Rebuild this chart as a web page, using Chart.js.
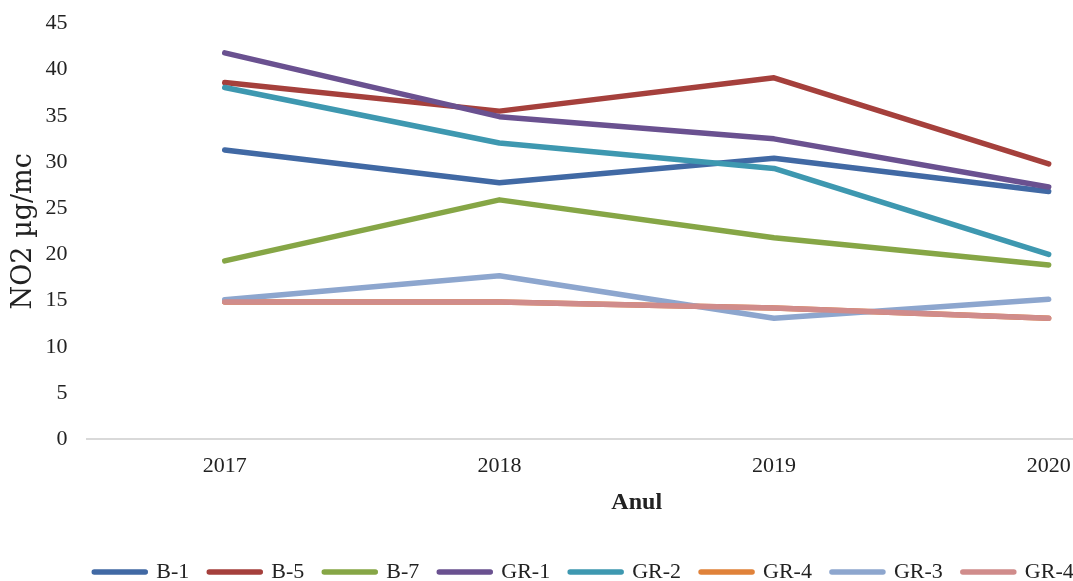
<!DOCTYPE html>
<html>
<head>
<meta charset="utf-8">
<title>NO2</title>
<script src="https://cdn.jsdelivr.net/npm/chart.js@4/dist/chart.umd.min.js"></script>
<style>
    html, body { margin: 0; padding: 0; background: #fff; overflow: hidden; }
    #wrap { position: absolute; left: 0; top: 0; width: 1188px; height: 593px; }
</style>
</head>
<body>
<div id="wrap"><canvas id="no2Chart"></canvas></div>
<script>
// Annual mean NO2 per station
const years = ['2017', '2018', '2019', '2020'];

const b1   = [31.3, 27.75, 30.4, 26.8];
const b5   = [38.6, 35.5, 39.1, 29.8];
const b7   = [19.3, 25.9, 21.8, 18.85];
const gr1  = [41.8, 34.9, 32.5, 27.3];
const gr2  = [38.05, 32.05, 29.3, 20.0];
const gr4a = [14.85, 14.85, 14.2, 13.1];
const gr3  = [15.1, 17.7, 13.1, 15.15];
const gr4b = [14.85, 14.85, 14.2, 13.1];

const seriesNames = ['B-1', 'B-5', 'B-7', 'GR-1', 'GR-2', 'GR-4', 'GR-3', 'GR-4'];
const seriesData = [b1, b5, b7, gr1, gr2, gr4a, gr3, gr4b];
const seriesColors = ['#4169A4', '#A5403C', '#86A646', '#6A5190', '#3E98B0', '#E0823A', '#8DA6CE', '#D08C8B'];

const yTicks = { min: 0, max: 45, step: 5 };

const serif = "'Liberation Serif', 'Times New Roman', serif";
const textColor = '#222';

document.addEventListener('DOMContentLoaded', function() {
    const ctx = document.getElementById('no2Chart').getContext('2d');

    // later series sit on top of earlier ones
    const datasets = seriesNames.map((name, i) => ({
        label: name,
        data: seriesData[i],
        borderColor: seriesColors[i],
        backgroundColor: seriesColors[i],
        borderWidth: 5.5,
        borderCapStyle: 'round',
        borderJoinStyle: 'round',
        pointRadius: 0,
        pointHoverRadius: 0,
        pointBorderWidth: 5,
        tension: 0,
        fill: false,
        order: seriesNames.length - i
    }));

    const defaultLabels = Chart.defaults.plugins.legend.labels.generateLabels;

    new Chart(ctx, {
        type: 'line',
        data: {
            labels: years,
            datasets: datasets
        },
        options: {
            responsive: true,
            maintainAspectRatio: false,
            animation: false,
            layout: {
                padding: { top: 1, left: -18, right: 2, bottom: 0 }
            },
            plugins: {
                legend: {
                    position: 'bottom',
                    labels: {
                        usePointStyle: true,
                        pointStyle: 'line',
                        pointStyleWidth: 51,
                        boxHeight: 5,
                        padding: 20,
                        color: textColor,
                        font: { family: serif, size: 22 },
                        sort: (a, b) => a.datasetIndex - b.datasetIndex,
                        // thick rounded swatches like the plotted lines
                        generateLabels: (chart) => defaultLabels(chart).map(item => ({
                            ...item,
                            lineWidth: 5.5,
                            lineCap: 'round'
                        }))
                    }
                },
                tooltip: { enabled: false }
            },
            scales: {
                x: {
                    offset: true,
                    grid: { display: false, drawTicks: false },
                    border: { display: true, color: '#d9d9d9', width: 2 },
                    ticks: {
                        padding: 14,
                        color: textColor,
                        font: { family: serif, size: 22 }
                    },
                    title: {
                        display: true,
                        text: 'Anul',
                        color: textColor,
                        padding: { top: -5, bottom: 23.5 },
                        font: { family: serif, size: 24, weight: 'bold' }
                    }
                },
                y: {
                    min: yTicks.min,
                    max: yTicks.max,
                    grid: { display: false, drawTicks: false },
                    border: { display: false },
                    ticks: {
                        stepSize: yTicks.step,
                        padding: 20,
                        color: textColor,
                        // small line height keeps the top label from pushing the plot down
                        font: { family: serif, size: 22, lineHeight: 0.3 }
                    },
                    title: {
                        display: true,
                        text: 'NO2 µg/mc',
                        color: textColor,
                        padding: { top: 26, bottom: -15 },
                        font: { family: "'DejaVu Serif', serif", size: 27 }
                    }
                }
            }
        }
    });
});
</script>
</body>
</html>
